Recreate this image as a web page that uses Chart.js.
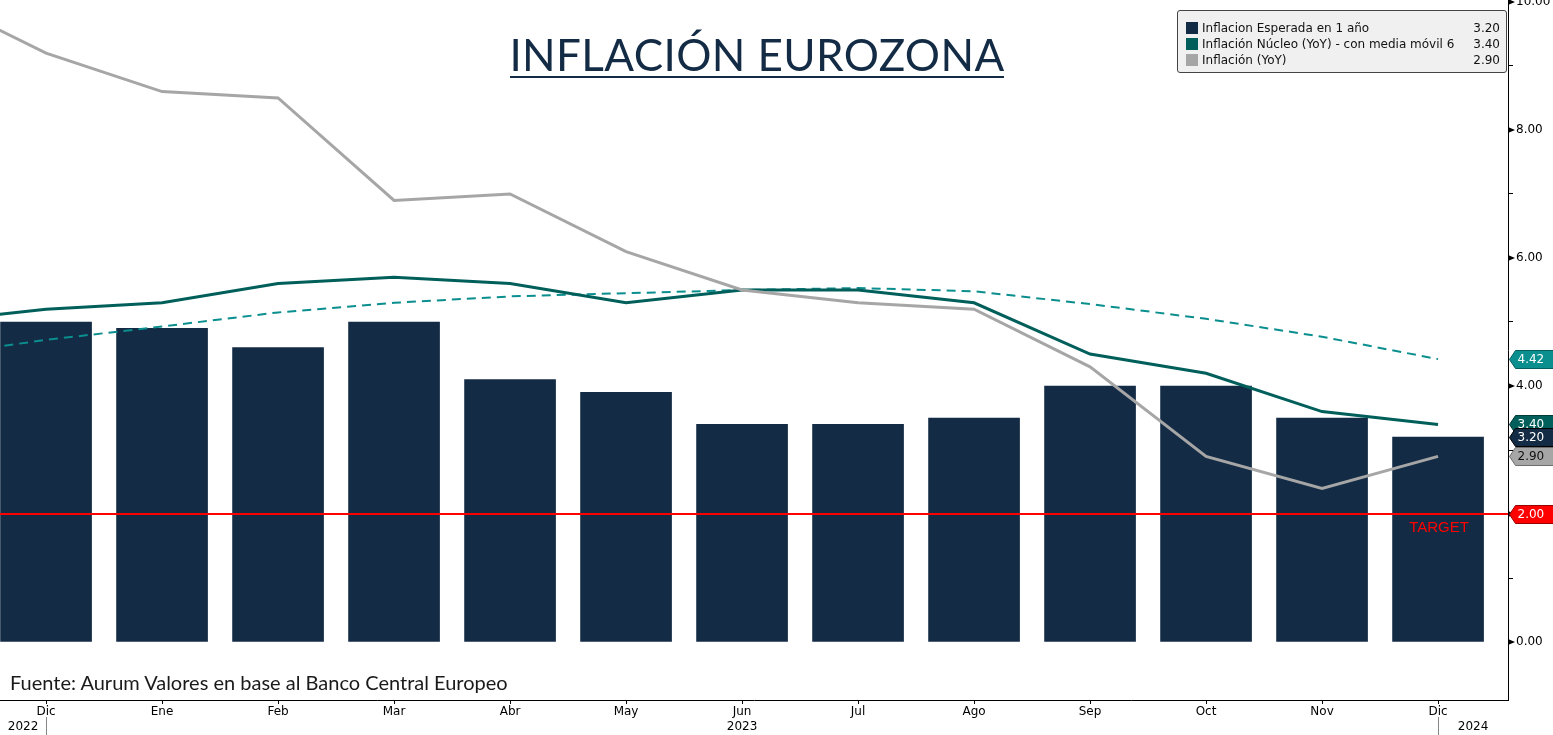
<!DOCTYPE html>
<html><head><meta charset="utf-8">
<script src="https://cdn.jsdelivr.net/npm/chart.js@4.4.1/dist/chart.umd.min.js"></script>
<style>
html,body{margin:0;padding:0;background:#fff;}
#wrap{position:relative;width:1553px;height:735px;overflow:hidden;background:#fff;}
#c{position:absolute;left:0;top:0;}
#title{position:absolute;left:0;width:1514px;top:28px;text-align:center;font-family:Lato,sans-serif;font-size:44px;letter-spacing:0.4px;color:#132b45;line-height:52px;white-space:nowrap;}
#uline{position:absolute;height:2px;top:76px;background:#132b45;}
#source{position:absolute;left:10px;top:669px;font-family:Lato,sans-serif;font-size:20px;color:#1a1a1a;line-height:26px;white-space:nowrap;}
#legend{position:absolute;left:1177px;top:10px;width:328px;height:61px;background:#f0f0f0;border:1px solid #444;border-radius:3px;font-family:"DejaVu Sans",sans-serif;font-size:12px;color:#111;}
.row{position:absolute;left:8px;width:314px;height:16px;line-height:16px;}
.sw{position:absolute;left:0;top:2px;width:12px;height:12px;}
.lt{position:absolute;left:16px;top:0;white-space:nowrap;}
.lv{position:absolute;right:0;top:0;}
</style></head>
<body>
<div id="wrap">
<canvas id="c" width="1553" height="735"></canvas>
<div id="title"><span id="tspan">INFLACIÓN EUROZONA</span></div>
<div id="uline"></div>
<div id="source">Fuente: Aurum Valores en base al Banco Central Europeo</div>
<div id="legend"></div>
</div>
<script>
// ---- data ----
const categories = ['Dic','Ene','Feb','Mar','Abr','May','Jun','Jul','Ago','Sep','Oct','Nov','Dic'];
const yearLabels = ['2022','2023','2024'];
// Inflación esperada en 1 año (bars), Dic 2022 .. Dic 2023
const expected1y = [5.0,4.9,4.6,5.0,4.1,3.9,3.4,3.4,3.5,4.0,4.0,3.5,3.2];
// lines: first value is the month before the first category (Nov 2022, off the left edge)
const coreYoY = [5.0,5.2,5.3,5.6,5.7,5.6,5.3,5.5,5.5,5.3,4.5,4.2,3.6,3.4];
const headlineYoY = [10.1,9.2,8.6,8.5,6.9,7.0,6.1,5.5,5.3,5.2,4.3,2.9,2.4,2.9];
const coreMA6 = [4.47,4.72,4.93,5.15,5.30,5.40,5.45,5.50,5.53,5.48,5.28,5.05,4.77,4.42];
const targetValue = 2.0;
const legendNames = ['Inflacion Esperada en 1 año','Inflación Núcleo (YoY) - con media móvil 6','Inflación (YoY)'];
const legendValues = ['3.20','3.40','2.90'];
const yTickValues = [0,1,2,3,4,5,6,7,8,9,10];

const C_BAR='#132b45', C_CORE='#005f5a', C_MA='#0b8e8e', C_HEAD='#a6a6a6', C_RED='#ff0000';

// title underline
const ts=document.getElementById('tspan'), ul=document.getElementById('uline');
const w=ts.getBoundingClientRect(); ul.style.left=(w.left+1)+'px'; ul.style.width=(w.width-2)+'px';

// legend
const lg=document.getElementById('legend');
[C_BAR,C_CORE,C_HEAD].forEach((col,i)=>{
  const r=document.createElement('div');r.className='row';r.style.top=(9+i*16)+'px';
  r.innerHTML='<div class="sw" style="background:'+col+'"></div><div class="lt">'+legendNames[i]+'</div><div class="lv">'+legendValues[i]+'</div>';
  lg.appendChild(r);
});

const barPts = expected1y.map((v,i)=>({x:i,y:v}));
const linePts = arr => arr.map((v,i)=>({x:i-1,y:v}));
const FONT = {family:'DejaVu Sans', size:12};

const overlay = {
  id:'overlay',
  afterDatasetsDraw(chart){
    const ctx=chart.ctx, ca=chart.chartArea, ys=chart.scales.y, xs=chart.scales.x;
    const ty=Math.round(ys.getPixelForValue(targetValue));
    ctx.save();
    ctx.strokeStyle=C_RED; ctx.lineWidth=2;
    ctx.beginPath(); ctx.moveTo(ca.left,ty); ctx.lineTo(ca.right+4,ty); ctx.stroke();
    ctx.fillStyle=C_RED; ctx.font='15px "Liberation Sans", Arial'; ctx.textAlign='center'; ctx.textBaseline='middle';
    ctx.fillText('TARGET', xs.getPixelForValue(categories.length-1)+1, ty+14);
    ctx.restore();
  },
  afterDraw(chart){
    const ctx=chart.ctx, ca=chart.chartArea, ys=chart.scales.y, xs=chart.scales.x;
    ctx.save();
    ctx.fillStyle='#000';
    yTickValues.filter(v=>v%2===0).forEach(v=>{
      const y=ys.getPixelForValue(v);
      ctx.beginPath(); ctx.moveTo(ca.right,y-3); ctx.lineTo(ca.right+7,y); ctx.lineTo(ca.right,y+3); ctx.closePath(); ctx.fill();
    });
    const boxes=[
      {v:coreMA6[coreMA6.length-1], fill:C_MA, stroke:'#065f5f', text:'#fff'},
      {v:coreYoY[coreYoY.length-1], fill:C_CORE, stroke:'#003c38', text:'#fff'},
      {v:expected1y[expected1y.length-1], fill:C_BAR, stroke:'#000', text:'#fff'},
      {v:headlineYoY[headlineYoY.length-1], fill:C_HEAD, stroke:'#6e6e6e', text:'#111'},
      {v:targetValue, fill:C_RED, stroke:'#9a0000', text:'#fff'}
    ];
    ctx.font='12px "DejaVu Sans"'; ctx.textBaseline='middle'; ctx.textAlign='left';
    boxes.forEach(b=>{
      const cy=Math.round(ys.getPixelForValue(b.v))+0.5, x0=ca.right+1.5, W=chart.width;
      ctx.beginPath(); ctx.moveTo(x0,cy); ctx.lineTo(x0+6,cy-9); ctx.lineTo(W+2,cy-9); ctx.lineTo(W+2,cy+9); ctx.lineTo(x0+6,cy+9); ctx.closePath();
      ctx.fillStyle=b.fill; ctx.fill(); ctx.strokeStyle=b.stroke; ctx.lineWidth=1; ctx.stroke();
      ctx.fillStyle=b.text; ctx.fillText(b.v.toFixed(2), x0+8, cy+0.5);
    });
    const p0=xs.getPixelForValue(0), pN=xs.getPixelForValue(categories.length-1);
    const bounds=[ca.left,p0,pN,ca.right];
    ctx.strokeStyle='#888'; ctx.lineWidth=1;
    [p0,pN].forEach(p=>{ctx.beginPath(); ctx.moveTo(Math.round(p)+0.5,717); ctx.lineTo(Math.round(p)+0.5,735); ctx.stroke();});
    ctx.fillStyle='#000'; ctx.textAlign='center';
    yearLabels.forEach((t,i)=>{ ctx.fillText(t,(bounds[i]+bounds[i+1])/2,727); });
    ctx.restore();
  }
};

new Chart(document.getElementById('c'),{
  type:'bar',
  data:{datasets:[
    {type:'line',label:'Inflación (YoY)',data:linePts(headlineYoY),borderColor:C_HEAD,borderWidth:3,pointRadius:0,tension:0,order:1},
    {type:'line',label:'Inflación Núcleo (YoY)',data:linePts(coreYoY),borderColor:C_CORE,borderWidth:3,pointRadius:0,tension:0,order:2},
    {type:'line',label:'Media móvil 6',data:linePts(coreMA6),borderColor:C_MA,borderWidth:2,borderDash:[9,6],pointRadius:0,tension:0,order:3},
    {type:'bar',label:'Inflacion Esperada en 1 año',data:barPts,backgroundColor:C_BAR,barThickness:91,order:10}
  ]},
  options:{
    responsive:false, animation:false, devicePixelRatio:1,
    layout:{padding:0},
    plugins:{legend:{display:false},tooltip:{enabled:false},title:{display:false}},
    scales:{
      x:{type:'linear',position:'bottom',min:-0.397,max:12.603,offset:false,
        afterBuildTicks:s=>{s.ticks=categories.map((_,i)=>({value:i}));},
        afterFit:s=>{s.height=35;s.paddingLeft=0;s.paddingRight=0;s.paddingTop=0;s.paddingBottom=0;},
        ticks:{autoSkip:false,maxRotation:0,padding:1,color:'#000',font:FONT,callback:v=>categories[v]},
        grid:{drawOnChartArea:false,offset:false,tickLength:4,color:'#000'},
        border:{color:'#000',width:1}},
      y:{type:'linear',position:'right',min:-0.906,max:10.031,
        afterBuildTicks:s=>{s.ticks=yTickValues.map(v=>({value:v}));},
        afterFit:s=>{s.width=45;s.paddingTop=0;s.paddingBottom=0;s.paddingLeft=0;s.paddingRight=0;},
        ticks:{padding:3,color:'#000',font:FONT,callback:v=>(v%2===0?v.toFixed(2):'')},
        grid:{drawOnChartArea:false,tickLength:5,color:'#000'},
        border:{color:'#000',width:1}}
    }
  },
  plugins:[overlay]
});
</script>
</body></html>
